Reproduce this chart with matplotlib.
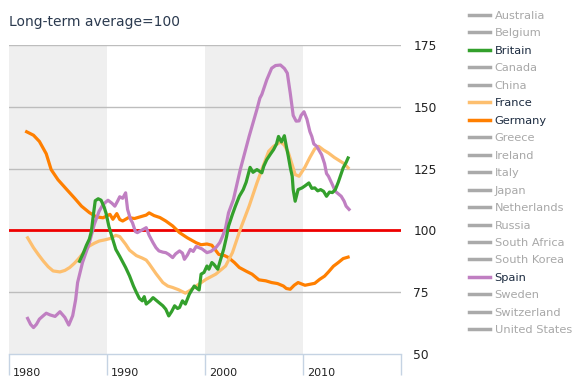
import matplotlib
matplotlib.use("Agg")
import matplotlib.pyplot as plt
from matplotlib.lines import Line2D
import matplotlib.transforms as mtransforms

# données (indice, moyenne long terme = 100)
germany_year = [1981.8, 1982.5, 1983.1, 1983.8, 1984.3, 1985.0, 1985.9, 1986.7, 1987.4, 1988.2,
                1988.9, 1989.6, 1990.3, 1990.6, 1991.0, 1991.3, 1991.6, 1992.2, 1992.8, 1993.4,
                1994.0, 1994.3, 1994.8, 1995.4, 1996.0, 1996.7, 1997.4, 1998.2, 1999.1, 1999.6,
                2000.2, 2000.7, 2001.4, 2002.0, 2002.4, 2003.0, 2003.5, 2004.2, 2004.8, 2005.5,
                2006.2, 2006.8, 2007.4, 2008.0, 2008.3, 2008.7, 2009.1, 2009.5, 2010.2, 2010.7,
                2011.2, 2011.7, 2012.2, 2012.6, 2013.1, 2013.6, 2014.1, 2014.6]
germany = [139.9, 138.5, 136.0, 131.0, 124.6, 120.5, 116.5, 113.0, 109.8, 107.2,
           105.5, 105.1, 106.5, 104.5, 106.8, 104.4, 103.8, 105.2, 104.8, 105.5,
           106.2, 107.1, 106.0, 105.2, 103.8, 101.8, 99.1, 97.0, 95.0, 94.2,
           94.5, 94.0, 90.3, 89.8, 89.0, 87.0, 85.0, 83.5, 82.3, 80.0,
           79.6, 78.9, 78.5, 77.5, 76.5, 76.2, 77.8, 78.9, 77.8, 78.2,
           78.6, 80.2, 81.5, 83.2, 85.5, 87.0, 88.6, 89.2]

france_year = [1981.9, 1982.5, 1983.0, 1983.5, 1984.0, 1984.5, 1985.2, 1985.7, 1986.2, 1986.7,
               1987.2, 1987.7, 1988.2, 1988.7, 1989.2, 1989.8, 1990.3, 1990.9, 1991.3, 1991.9,
               1992.3, 1993.0, 1993.6, 1994.0, 1994.3, 1995.0, 1995.7, 1996.2, 1996.7, 1997.3,
               1998.0, 1998.5, 1999.1, 2000.1, 2001.1, 2002.1, 2002.8, 2003.6, 2004.5, 2005.3,
               2005.8, 2006.5, 2007.0, 2007.7, 2008.1, 2008.5, 2008.9, 2009.2, 2009.6, 2010.2,
               2010.7, 2011.2, 2011.6, 2012.1, 2012.6, 2013.2, 2013.8, 2014.2, 2014.6]
france = [97.0, 93.0, 90.2, 87.6, 85.3, 83.6, 83.2, 83.8, 85.0, 86.8,
          89.0, 91.5, 93.7, 94.8, 95.7, 96.2, 96.7, 98.0, 97.5, 94.4,
          92.0, 89.8, 88.8, 88.0, 86.5, 82.5, 78.9, 77.5, 76.9, 76.0,
          74.6, 75.8, 77.5, 80.2, 82.3, 85.6, 91.0, 100.4, 109.8, 119.2,
          124.6, 132.0, 134.0, 135.8, 134.5, 131.5, 126.5, 122.6, 121.9, 125.6,
          129.5, 133.0, 134.0, 132.5, 131.3, 129.5, 128.0, 127.0, 125.3]

britain_year = [1987.2, 1987.6, 1987.9, 1988.2, 1988.4, 1988.6, 1988.8, 1989.1, 1989.4, 1989.7,
                1989.9, 1990.2, 1990.5, 1990.9, 1991.3, 1991.9, 1992.3, 1992.7, 1993.0, 1993.3,
                1993.6, 1993.8, 1994.0, 1994.4, 1994.7, 1995.0, 1995.3, 1995.7, 1996.0, 1996.3,
                1996.6, 1996.9, 1997.2, 1997.4, 1997.7, 1998.0, 1998.4, 1998.9, 1999.2, 1999.4,
                1999.6, 1999.9, 2000.2, 2000.4, 2000.7, 2000.9, 2001.3, 2001.6, 2001.9, 2002.2,
                2002.4, 2002.8, 2003.1, 2003.5, 2003.9, 2004.2, 2004.6, 2004.9, 2005.3, 2005.8,
                2006.0, 2006.3, 2006.7, 2007.0, 2007.3, 2007.5, 2007.8, 2008.1, 2008.3, 2008.5,
                2008.7, 2008.9, 2009.0, 2009.2, 2009.5, 2009.9, 2010.2, 2010.6, 2010.9, 2011.2,
                2011.5, 2011.8, 2012.1, 2012.4, 2012.7, 2013.0, 2013.3, 2013.6, 2014.1, 2014.4,
                2014.6]
britain = [87.5, 91.0, 94.0, 96.5, 99.5, 106.0, 112.0, 112.8, 112.2, 109.5,
           107.0, 101.5, 97.5, 92.3, 89.5, 85.0, 81.6, 77.5, 74.9, 72.5,
           71.5, 73.2, 70.2, 71.5, 72.8, 71.8, 70.8, 69.5, 68.1, 65.4,
           67.2, 69.5, 68.4, 68.8, 71.5, 70.2, 74.2, 77.5, 76.5, 75.9,
           82.3, 83.0, 85.6, 84.3, 87.0, 86.3, 84.3, 88.3, 92.3, 97.5,
           101.7, 106.5, 109.8, 113.8, 116.5, 119.5, 125.5, 123.5, 124.6, 123.3,
           126.0, 128.6, 131.0, 132.7, 135.0, 138.0, 135.8, 138.3, 134.0, 130.0,
           125.5, 121.9, 116.5, 111.8, 116.5, 117.2, 118.0, 119.2, 117.0, 117.2,
           116.0, 116.5, 115.8, 113.8, 115.5, 115.3, 116.5, 119.5, 125.3, 127.5,
           129.3]

spain_year = [1981.9, 1982.2, 1982.5, 1982.8, 1983.1, 1983.5, 1983.8, 1984.2, 1984.7, 1985.2,
              1985.7, 1986.1, 1986.5, 1986.8, 1987.0, 1987.5, 1988.2, 1988.7, 1989.2, 1989.6,
              1990.1, 1990.5, 1990.8, 1991.1, 1991.3, 1991.6, 1991.9, 1992.1, 1992.4, 1992.6,
              1992.9, 1993.1, 1993.5, 1994.0, 1994.3, 1994.7, 1995.0, 1995.3, 1995.7, 1996.0,
              1996.3, 1996.7, 1997.0, 1997.4, 1997.7, 1997.9, 1998.2, 1998.5, 1998.8, 1999.1,
              1999.4, 1999.7, 2000.2, 2000.6, 2001.1, 2001.5, 2001.8, 2002.1, 2002.4, 2002.9,
              2003.6, 2004.5, 2005.3, 2005.6, 2005.8, 2006.3, 2006.8, 2007.2, 2007.7, 2008.1,
              2008.4, 2008.7, 2009.0, 2009.3, 2009.6, 2009.8, 2010.1, 2010.4, 2010.7, 2010.9,
              2011.1, 2011.4, 2011.9, 2012.2, 2012.4, 2012.6, 2013.0, 2013.3, 2013.9, 2014.2,
              2014.4, 2014.7]
spain = [64.4, 62.0, 60.7, 62.0, 64.1, 65.5, 66.5, 65.8, 65.2, 67.1,
         64.8, 61.7, 65.5, 72.0, 78.9, 87.0, 95.0, 102.4, 107.8, 110.5,
         112.2, 111.0, 109.8, 112.0, 113.6, 113.0, 115.2, 108.5, 104.5, 103.1,
         99.5, 99.1, 100.0, 101.1, 98.0, 95.0, 93.0, 91.7, 91.2, 91.0,
         90.3, 89.0, 90.5, 91.7, 90.8, 88.3, 90.0, 92.3, 91.5, 93.5,
         93.0, 92.5, 91.0, 91.5, 93.0, 95.0, 97.7, 101.0, 107.1, 112.5,
         124.6, 138.0, 149.0, 153.5, 155.0, 160.9, 165.6, 166.7, 166.9, 165.5,
         163.6, 155.5, 146.5, 144.2, 144.3, 146.5, 148.0, 145.0, 140.0, 138.0,
         135.0, 134.0, 130.6, 127.0, 123.0, 121.9, 118.5, 115.8, 113.8, 111.8,
         109.8, 108.5]

countries = ["Australia", "Belgium", "Britain", "Canada", "China", "France", "Germany",
             "Greece", "Ireland", "Italy", "Japan", "Netherlands", "Russia", "South Africa",
             "South Korea", "Spain", "Sweden", "Switzerland", "United States"]
colors = {"Britain": "#33a02c", "France": "#fdbf6f", "Germany": "#ff7f00", "Spain": "#c07fc2"}

x_ticks = [1980, 1990, 2000, 2010, 2020]
x_labels = ["1980", "1990", "2000", "2010", ""]
y_ticks = [50, 75, 100, 125, 150, 175]
bands = [(1980, 1990), (2000, 2010)]

W, H = 585, 389
fig = plt.figure(figsize=(W / 100, H / 100), dpi=100)
ax = fig.add_axes([9 / W, 1 - 354 / H, (401 - 9) / W, (354 - 45) / H])
ax.set_xlim(1980, 2020)
ax.set_ylim(50, 175)

for a, b in bands:
    ax.axvspan(a, b, color="#efefef", lw=0, zorder=0)

for v in [75, 125, 150, 175]:
    ax.axhline(v, color="#bdbdbd", lw=1, zorder=1)
ax.axhline(100, color="#ee0000", lw=2, zorder=2)

ax.plot(germany_year, germany, color=colors["Germany"], lw=2.3, zorder=3)
ax.plot(france_year, france, color=colors["France"], lw=2.3, zorder=3)
ax.plot(spain_year, spain, color=colors["Spain"], lw=2.3, zorder=3)
ax.plot(britain_year, britain, color=colors["Britain"], lw=2.3, zorder=4)

for s in ["top", "left", "right"]:
    ax.spines[s].set_visible(False)
ax.spines["bottom"].set_color("#c5d3e3")
ax.spines["bottom"].set_linewidth(1)

# x : traits sous l'axe, libellés à droite du trait
ax.set_xticks(x_ticks)
ax.set_xticklabels(x_labels, fontsize=8, color="#222222")
ax.tick_params(axis="x", length=15, width=1, color="#c5d3e3", pad=-5)
offset = mtransforms.ScaledTranslation(3 / 72, 0, fig.dpi_scale_trans)
for lab in ax.get_xticklabels():
    lab.set_horizontalalignment("left")
    lab.set_transform(lab.get_transform() + offset)

ax.yaxis.tick_right()
ax.set_yticks(y_ticks)
ax.set_yticklabels([str(v) for v in y_ticks], fontsize=8.8, color="#222222")
ax.tick_params(axis="y", length=0, pad=9)

fig.text(9 / W, 1 - 22 / H, "Long-term average=100", fontsize=10, color="#2b3a4f",
         va="center", ha="left")

handles = []
for c in countries:
    handles.append(Line2D([], [], color=colors.get(c, "#aaaaaa"), lw=2.5))
leg = fig.legend(handles, countries, loc="upper left", bbox_to_anchor=(469 / W, 1 - 11 / H),
                 frameon=False, fontsize=8.2, handlelength=1.8, handletextpad=0.45,
                 labelspacing=0.655, borderpad=0, borderaxespad=0)
for t, c in zip(leg.get_texts(), countries):
    t.set_color("#1c2b40" if c in colors else "#a8a8a8")

fig.savefig("out.png", dpi=100)
